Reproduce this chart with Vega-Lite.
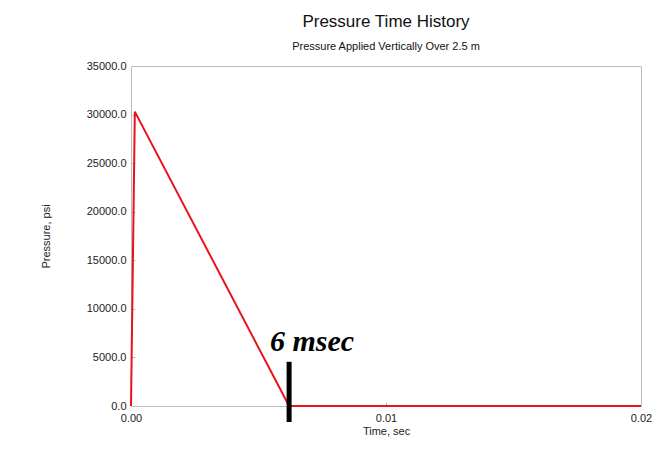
{
  "$schema": "https://vega.github.io/schema/vega-lite/v6.json",
  "autosize": "none",
  "width": 510,
  "height": 340,
  "padding": {"left": 131, "top": 66, "right": 30, "bottom": 43},
  "background": "white",
  "config": {
    "font": "Liberation Sans",
    "view": {"stroke": "#bdbdbd", "strokeWidth": 1},
    "axis": {"domain": false, "grid": false, "labelFont": "Liberation Sans", "titleFont": "Liberation Sans", "labelColor": "#222", "titleColor": "#222", "tickColor": "#bdbdbd"}
  },
  "title": {
    "text": "Pressure Time History",
    "subtitle": "Pressure Applied Vertically Over 2.5 m",
    "fontSize": 17,
    "fontWeight": "normal",
    "font": "Liberation Sans",
    "color": "#111",
    "subtitleFontSize": 11,
    "subtitleFont": "Liberation Sans",
    "subtitleColor": "#111",
    "subtitlePadding": 10,
    "offset": 7,
    "anchor": "middle"
  },
  "datasets": {
    "pressure": [
      {"t": 0, "p": 0},
      {"t": 0.00015, "p": 30300},
      {"t": 0.0062, "p": 0},
      {"t": 0.02, "p": 0}
    ],
    "marker": [
      {"t": 0.0062, "top": 4550, "bottom": -1650}
    ],
    "note": [
      {"t": 0.0071, "p": 5700, "label": "6 msec"}
    ]
  },
  "layer": [
    {
      "data": {"name": "pressure"},
      "mark": {"type": "line", "color": "#e8141c", "strokeWidth": 2},
      "encoding": {
        "x": {"field": "t", "type": "quantitative", "scale": {"domain": [0, 0.02], "nice": false},
          "axis": {"title": "Time, sec", "values": [0, 0.01, 0.02], "format": ".2f", "labelFontSize": 11, "titleFontSize": 11, "titleFontWeight": "normal", "tickSize": -4, "labelPadding": 10, "titlePadding": 2, "labelFlush": false}},
        "y": {"field": "p", "type": "quantitative", "scale": {"domain": [0, 35000], "nice": false},
          "axis": {"title": "Pressure, psi", "values": [0, 5000, 10000, 15000, 20000, 25000, 30000, 35000], "format": ".1f", "labelFontSize": 11, "titleFontSize": 11, "titleFontWeight": "normal", "tickSize": -4, "labelPadding": 9, "titlePadding": 35}}
      }
    },
    {
      "data": {"name": "marker"},
      "mark": {"type": "rule", "color": "black", "strokeWidth": 5, "clip": false},
      "encoding": {
        "x": {"field": "t", "type": "quantitative"},
        "y": {"field": "top", "type": "quantitative"},
        "y2": {"field": "bottom"}
      }
    },
    {
      "data": {"name": "note"},
      "mark": {"type": "text", "font": "Liberation Serif", "fontStyle": "italic", "fontWeight": "bold", "fontSize": 30, "align": "center", "baseline": "alphabetic", "color": "black"},
      "encoding": {
        "x": {"field": "t", "type": "quantitative"},
        "y": {"field": "p", "type": "quantitative"},
        "text": {"field": "label"}
      }
    }
  ]
}
